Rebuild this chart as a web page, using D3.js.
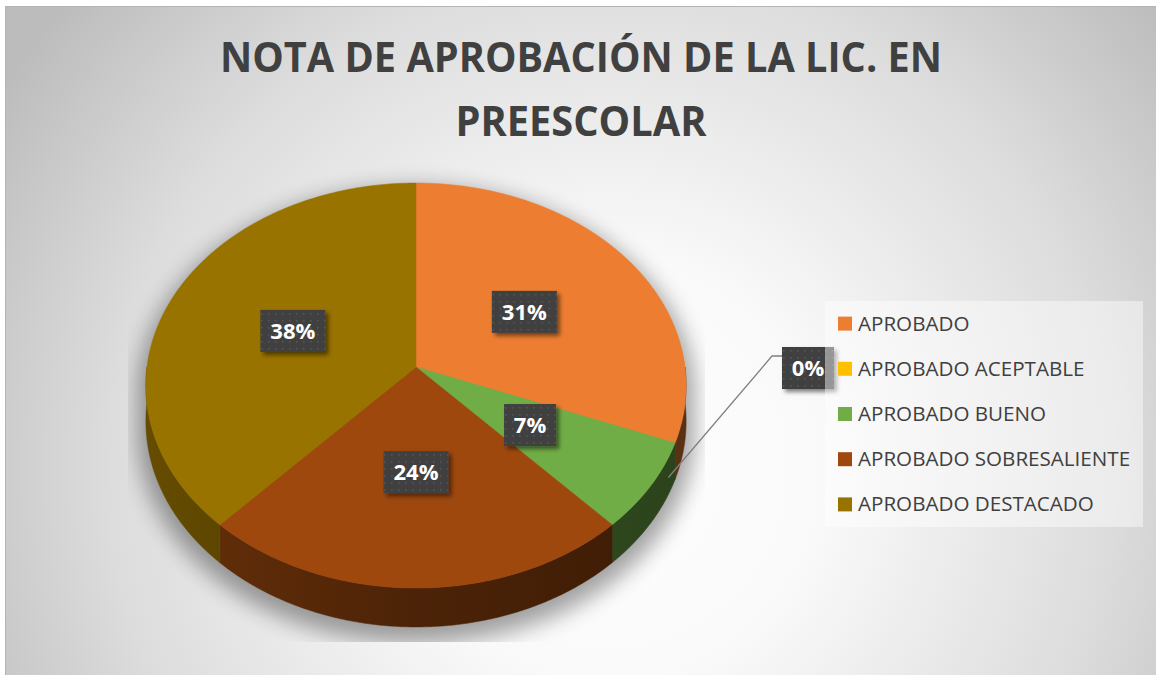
<!DOCTYPE html>
<html>
<head>
<meta charset="utf-8">
<script src="https://cdn.jsdelivr.net/npm/d3@7"></script>
<style>
  html, body { margin: 0; padding: 0; background: #ffffff; }
  svg { display: block; }
</style>
</head>
<body>
<div id="grafico"></div>
<script>
// Datos
const categorias = ["APROBADO", "APROBADO ACEPTABLE", "APROBADO BUENO", "APROBADO SOBRESALIENTE", "APROBADO DESTACADO"];
const valores = [13, 0, 3, 10, 16];
const colores = ["#ED7D31", "#FFC000", "#70AD47", "#9E480E", "#997300"];
const titulo = ["NOTA DE APROBACIÓN DE LA LIC. EN", "PREESCOLAR"];

const width = 1156;
const height = 675;
const fuente = "'Open Sans', 'DejaVu Sans', sans-serif";

//---------------------------------------------------------------------------------------

// Canevas SVG
const svg = d3.select("#grafico")
  .append("svg")
  .attr("width", width)
  .attr("height", height);

const defs = svg.append("defs");

// fondo con degradado radial
const fondo = defs.append("radialGradient")
  .attr("id", "fondo")
  .attr("gradientUnits", "userSpaceOnUse")
  .attr("cx", 610).attr("cy", 470).attr("r", 720);
fondo.append("stop").attr("offset", 0).attr("stop-color", "#ffffff");
fondo.append("stop").attr("offset", 0.3).attr("stop-color", "#f9f9f9");
fondo.append("stop").attr("offset", 0.7).attr("stop-color", "#dcdcdc");
fondo.append("stop").attr("offset", 1).attr("stop-color", "#bcbcbc");

svg.append("rect")
  .attr("x", 5.5).attr("y", 6.5)
  .attr("width", 1160).attr("height", 680)
  .attr("fill", "url(#fondo)")
  .attr("stroke", "#b4b4b4");

// trama de puntos para las etiquetas
const trama = defs.append("pattern")
  .attr("id", "puntos")
  .attr("patternUnits", "userSpaceOnUse")
  .attr("width", 7).attr("height", 7);
trama.append("rect").attr("width", 7).attr("height", 7).attr("fill", "#404040");
trama.append("rect").attr("x", 3).attr("y", 3).attr("width", 1.6).attr("height", 1.6).attr("fill", "#565656");

// sombra de las etiquetas
defs.append("filter")
  .attr("id", "sombraEtiqueta")
  .attr("x", "-30%").attr("y", "-30%").attr("width", "160%").attr("height", "160%")
  .append("feDropShadow")
  .attr("dx", 3).attr("dy", 3).attr("stdDeviation", 2)
  .attr("flood-color", "#000").attr("flood-opacity", 0.5);

// sombra difusa del pastel
defs.append("filter")
  .attr("id", "difuso")
  .attr("x", "-20%").attr("y", "-20%").attr("width", "140%").attr("height", "140%")
  .append("feGaussianBlur")
  .attr("stdDeviation", 11);

defs.append("clipPath")
  .attr("id", "areaGrafico")
  .append("rect")
  .attr("x", 128).attr("y", 150).attr("width", 577).attr("height", 492);

//---------------------------------------------------------------------------------------

// Titulo
const tit = svg.append("text")
  .attr("text-anchor", "middle")
  .attr("font-family", fuente)
  .attr("font-weight", 700)
  .attr("font-size", 40.5)
  .attr("fill", "#404040");

tit.selectAll("tspan")
  .data(titulo)
  .join("tspan")
  .attr("x", 581)
  .attr("y", (d, i) => 72 + i * 64)
  .attr("textLength", (d, i) => i === 0 ? 722 : 251)
  .attr("lengthAdjust", "spacingAndGlyphs")
  .text(d => d);

//---------------------------------------------------------------------------------------

// Pastel 3D en perspectiva
const pie3d = { cx: 416, cy: 367, rx: 269, ry: 200.8, alto: 35.4, persp: 0.0914 };

function proyectar(ang, r, h) {
  const X = Math.sin(ang) * r;
  const Z = -Math.cos(ang) * r;
  const k = 1 / (1 - pie3d.persp * Z);
  return [pie3d.cx + pie3d.rx * X * k, pie3d.cy + (pie3d.ry * Z + h) * k];
}

function arco(a0, a1, h, r = 1) {
  const n = Math.max(2, Math.ceil((a1 - a0) / 0.01));
  return d3.range(n + 1).map(i => proyectar(a0 + (a1 - a0) * i / n, r, h));
}

const linea = d3.line();
const total = d3.sum(valores);
const pct = d3.format(".0%");

const arcos = d3.pie().sort(null).value(d => d)(valores)
  .map((d, i) => ({ ...d, nombre: categorias[i], color: colores[i] }));

const svgPlot = svg.append("g");

// sombra
const sombra = svgPlot.append("g")
  .attr("clip-path", "url(#areaGrafico)")
  .append("g")
  .attr("filter", "url(#difuso)")
  .attr("opacity", 0.36)
  .attr("transform", "translate(0, 9)");

[0, pie3d.alto].forEach(h => {
  sombra.append("path")
    .attr("d", linea(arco(0, 2 * Math.PI, h, 1.03)) + "Z")
    .attr("fill", "#000");
});

// paredes laterales (solo la mitad visible)
const sombreado = d3.scaleLinear()
  .domain([pie3d.cx - pie3d.rx, pie3d.cx, pie3d.cx + pie3d.rx])
  .range([0.66, 0.48, 0.38]);

arcos.forEach((d, i) => {
  const g = defs.append("linearGradient")
    .attr("id", `pared${i}`)
    .attr("gradientUnits", "userSpaceOnUse")
    .attr("x1", pie3d.cx - pie3d.rx).attr("x2", pie3d.cx + pie3d.rx)
    .attr("y1", 0).attr("y2", 0);
  sombreado.domain().forEach((x, j) => {
    const c = d3.rgb(d.color);
    const f = sombreado(x);
    g.append("stop")
      .attr("offset", j / 2)
      .attr("stop-color", d3.rgb(c.r * f, c.g * f, c.b * f));
  });
});

const paredes = arcos
  .map((d, i) => ({ i, a0: Math.max(d.startAngle, Math.PI / 2), a1: Math.min(d.endAngle, 3 * Math.PI / 2) }))
  .filter(d => d.a1 > d.a0);

svgPlot.selectAll(".pared")
  .data(paredes)
  .join("path")
  .attr("class", "pared")
  .attr("d", d => linea([...arco(d.a0, d.a1, 0), ...arco(d.a0, d.a1, pie3d.alto).reverse()]) + "Z")
  .attr("fill", d => `url(#pared${d.i})`)
  .attr("stroke", d => `url(#pared${d.i})`)
  .attr("stroke-width", 0.5);

// caras superiores
svgPlot.selectAll(".cara")
  .data(arcos.filter(d => d.value > 0))
  .join("path")
  .attr("class", "cara")
  .attr("d", d => linea([[pie3d.cx, pie3d.cy], ...arco(d.startAngle, d.endAngle, 0)]) + "Z")
  .attr("fill", d => d.color)
  .attr("stroke", d => d.color)
  .attr("stroke-width", 0.5);

//---------------------------------------------------------------------------------------

// Etiquetas de porcentaje
function etiqueta(g, texto) {
  const caja = g.append("rect")
    .attr("fill", "url(#puntos)")
    .attr("filter", "url(#sombraEtiqueta)");
  const t = g.append("text")
    .attr("text-anchor", "middle")
    .attr("y", 8)
    .attr("font-family", fuente)
    .attr("font-weight", 700)
    .attr("font-size", 22)
    .attr("fill", "#ffffff")
    .text(texto);
  const w = Math.round(t.node().getComputedTextLength()) + 20;
  caja.attr("x", -w / 2).attr("y", -21).attr("width", w).attr("height", 42);
  return w;
}

const capaEtiquetas = svg.append("g");

arcos.filter(d => d.value > 0).forEach(d => {
  const [x, y] = proyectar((d.startAngle + d.endAngle) / 2, 0.5, 0);
  const g = capaEtiquetas.append("g").attr("transform", `translate(${x}, ${y})`);
  etiqueta(g, pct(d.value / total));
});

// etiqueta externa con línea guía (valor 0)
const externa = { x: 808, y: 368 };
arcos.filter(d => d.value === 0).forEach(d => {
  const g = capaEtiquetas.append("g").attr("transform", `translate(${externa.x}, ${externa.y})`);
  const w = etiqueta(g, pct(d.value / total));
  const inicio = proyectar((d.startAngle + d.endAngle) / 2, 0.975, pie3d.alto);
  const borde = externa.x - w / 2;
  capaEtiquetas.insert("path", ":first-child")
    .attr("d", linea([inicio, [borde - 10, externa.y - 12], [borde, externa.y - 12]]))
    .attr("fill", "none")
    .attr("stroke", "#7f7f7f")
    .attr("stroke-width", 1.3);
});

//---------------------------------------------------------------------------------------

// Leyenda
const leyenda = svg.append("g");
const yLeyenda = d3.scaleBand().domain(categorias).range([301, 527]);

leyenda.append("rect")
  .attr("x", 825).attr("y", 301)
  .attr("width", 318).attr("height", 226)
  .attr("fill", "#ffffff")
  .attr("opacity", 0.45);

const item = leyenda.selectAll(".item")
  .data(arcos)
  .join("g")
  .attr("class", "item")
  .attr("transform", d => `translate(838, ${yLeyenda(d.nombre) + yLeyenda.bandwidth() / 2})`);

item.append("rect")
  .attr("y", -7).attr("width", 14).attr("height", 14)
  .attr("fill", d => d.color);

item.append("text")
  .attr("x", 20)
  .attr("y", 7)
  .attr("font-family", fuente)
  .attr("font-size", 20.6)
  .attr("fill", "#404040")
  .text(d => d.nombre);
</script>
</body>
</html>
